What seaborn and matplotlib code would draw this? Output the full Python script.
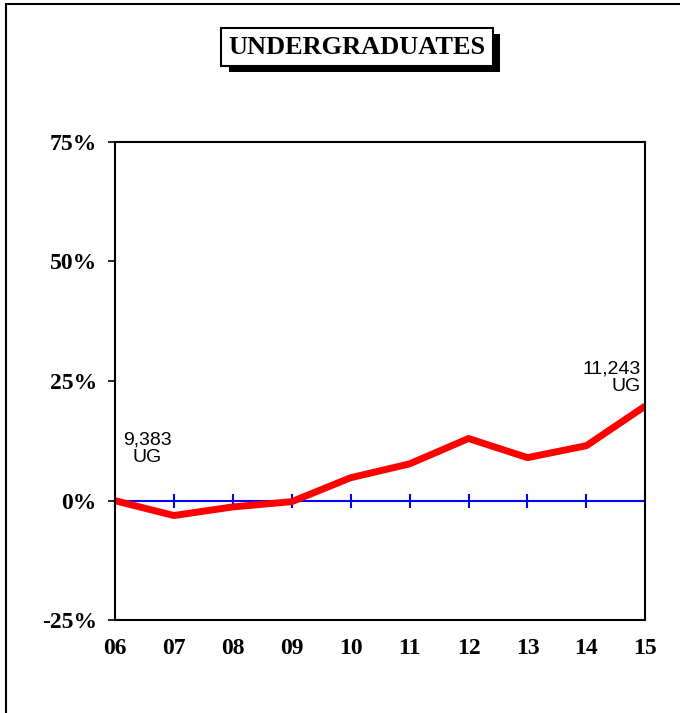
import matplotlib
matplotlib.use("Agg")
import matplotlib.pyplot as plt
import pandas as pd
import seaborn as sns
from matplotlib.patches import Rectangle
from matplotlib.ticker import FuncFormatter

years = ["06", "07", "08", "09", "10", "11", "12", "13", "14", "15"]
pct_change = [0.0, -3.1, -1.3, -0.2, 4.8, 7.7, 13.0, 9.0, 11.5, 19.8]
baseline = [0.0] * len(years)
y_ticks = [-25, 0, 25, 50, 75]
start_label = "9,383\nUG"
end_label = "11,243\nUG"
title = "UNDERGRADUATES"

df = pd.DataFrame({"pos": range(len(years)), "year": years,
                   "pct": pct_change, "base": baseline})

sns.set_theme(style="white")
plt.rcParams["font.family"] = ["Liberation Serif", "DejaVu Serif"]
plt.rcParams["text.color"] = "black"
plt.rcParams["xtick.color"] = "black"
plt.rcParams["ytick.color"] = "black"

fig = plt.figure(figsize=(6.8, 7.13), dpi=100)
ax = fig.add_axes([0.169, 0.130, 0.780, 0.671])

# outer frame (only top and left edges visible)
fig.add_artist(Rectangle((6 / 680, -0.1), 1.2, 1.1 - 4 / 713,
                         transform=fig.transFigure, fill=False,
                         edgecolor="black", linewidth=1.5))

sns.lineplot(data=df, x="pos", y="base", ax=ax, color="blue", linewidth=1.5,
             marker="|", markersize=10, markeredgewidth=1.5, markeredgecolor="blue",
             clip_on=False)
sns.lineplot(data=df, x="pos", y="pct", ax=ax, color="red", linewidth=5,
             solid_capstyle="butt")

ax.set_xlim(0, len(years) - 1)
ax.set_ylim(-25, 75)
ax.set_xticks(df["pos"])
ax.set_xticklabels(years)
ax.set_yticks(y_ticks)
ax.yaxis.set_major_formatter(FuncFormatter(lambda v, p: f"{v:.0f}%"))
ax.tick_params(axis="y", direction="out", length=5, width=1.2, left=True,
               pad=8, labelsize=17)
ax.tick_params(axis="x", length=0, pad=13, labelsize=17)
for lab in ax.get_xticklabels() + ax.get_yticklabels():
    lab.set_fontweight("bold")
ax.set_xlabel(None)
ax.set_ylabel(None)
for sp in ax.spines.values():
    sp.set_visible(True)
    sp.set_color("black")
    sp.set_linewidth(1.5)
ax.grid(False)

ax.text(0.55, 10.9, start_label, ha="center", va="center", fontsize=14,
        family=["Liberation Sans", "DejaVu Sans"], linespacing=1.05)
ax.text(8.92, 25.7, end_label, ha="right", va="center", fontsize=14,
        family=["Liberation Sans", "DejaVu Sans"], linespacing=1.05,
        multialignment="right")

fig.text(0.525, 0.934, title, ha="center", va="center", fontsize=19,
         fontweight="bold",
         bbox=dict(boxstyle="square,pad=0.3", facecolor="white",
                   edgecolor="black", linewidth=1.5))
# shadow box behind title
fig.add_artist(Rectangle((229 / 680, 1 - 72 / 713), 271 / 680, 38 / 713,
                         transform=fig.transFigure, facecolor="black",
                         edgecolor="none", zorder=-1))

fig.savefig("out.png", dpi=100)
